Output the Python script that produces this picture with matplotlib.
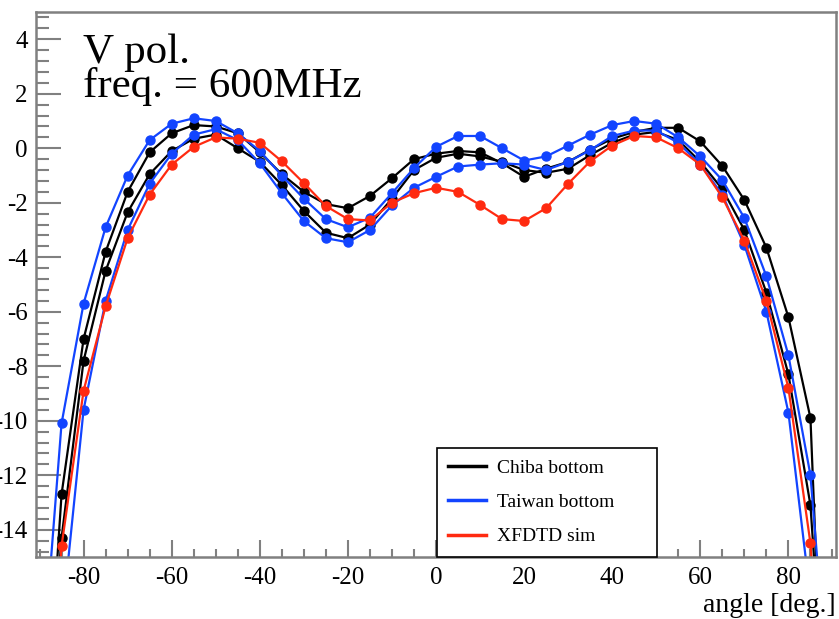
"""Antenna pattern, V pol. 600 MHz: Chiba / Taiwan bottom vs XFDTD sim."""
import matplotlib
matplotlib.use("Agg")
import matplotlib.pyplot as plt
from matplotlib.ticker import MultipleLocator

plt.rcParams["font.family"] = ["Liberation Serif", "DejaVu Serif"]
plt.rcParams["axes.unicode_minus"] = False

angle = list(range(-90, 91, 5))

chiba_1 = [-25, -12.7, -7.0, -3.8, -1.6, -0.15, 0.55, 0.85, 0.8, 0.55,
           -0.15, -0.95, -1.6, -2.05, -2.2, -1.75, -1.1, -0.4, -0.2, -0.1,
           -0.15, -0.55, -1.05, -0.75, -0.5, -0.05, 0.35, 0.6, 0.75, 0.75,
           0.25, -0.65, -1.9, -3.65, -6.2, -9.9, -30]
chiba_2 = [-25, -14.3, -7.8, -4.5, -2.35, -0.95, -0.1, 0.35, 0.5, 0.0,
           -0.5, -1.35, -2.3, -3.1, -3.3, -2.8, -1.85, -0.8, -0.35, -0.2,
           -0.3, -0.5, -0.8, -0.9, -0.75, -0.25, 0.2, 0.5, 0.6, 0.3,
           -0.5, -1.5, -3.0, -5.3, -8.3, -13.1, -25]
taiwan_1 = [-20.5, -10.1, -5.7, -2.9, -1.0, 0.3, 0.9, 1.1, 1.0, 0.55,
            -0.1, -1.0, -1.85, -2.6, -2.9, -2.55, -1.65, -0.73, 0.05, 0.45,
            0.45, 0.0, -0.45, -0.3, 0.1, 0.5, 0.85, 1.0, 0.9, 0.4,
            -0.3, -1.17, -2.56, -4.7, -7.6, -12.0, -22]
taiwan_2 = [-28, -17.5, -9.6, -5.6, -3.0, -1.3, -0.2, 0.5, 0.7, 0.3,
            -0.55, -1.65, -2.67, -3.3, -3.45, -3.0, -2.1, -1.45, -1.05, -0.67,
            -0.6, -0.55, -0.6, -0.8, -0.5, -0.07, 0.45, 0.65, 0.65, 0.2,
            -0.6, -1.7, -3.55, -6.0, -9.7, -16.5, -28]
xfdtd = [-26, -14.6, -8.9, -5.8, -3.3, -1.7, -0.6, 0.05, 0.4, 0.35,
         0.2, -0.48, -1.28, -2.12, -2.6, -2.65, -2.0, -1.65, -1.45, -1.6,
         -2.08, -2.6, -2.67, -2.2, -1.3, -0.48, 0.1, 0.45, 0.4, 0.0,
         -0.6, -1.8, -3.4, -5.6, -8.8, -14.5, -26]

BLACK = "#000000"
BLUE = "#1244ff"
RED = "#ff2a10"
FRAME = "#808080"

fig = plt.figure(figsize=(8.39, 6.19), dpi=100)
ax = fig.add_axes([36 / 839, 62 / 619, 800 / 839, 545 / 619])

style = dict(marker="o", ms=6.5, lw=1.6)
ax.plot(angle, chiba_1, color=BLACK, label="Chiba bottom", **style)
ax.plot(angle, chiba_2, color=BLACK, **style)
ax.plot(angle, taiwan_1, color=BLUE, label="Taiwan bottom", **style)
ax.plot(angle, taiwan_2, color=BLUE, **style)
ax.plot(angle, xfdtd, color=RED, label="XFDTD sim", **style)

ax.set_xlim(-90.8, 90.8)
ax.set_ylim(-15, 5)

ax.xaxis.set_major_locator(MultipleLocator(20))
ax.xaxis.set_minor_locator(MultipleLocator(5))
ax.yaxis.set_major_locator(MultipleLocator(2))
ax.yaxis.set_minor_locator(MultipleLocator(0.4))
ax.tick_params(which="both", direction="in", top=False, right=False,
               color=FRAME, width=1.5, labelsize=18)
ax.tick_params(axis="y", which="major", length=18, pad=6)
ax.tick_params(axis="y", which="minor", length=9.5)
ax.tick_params(axis="x", which="major", length=12, pad=7)
ax.tick_params(axis="x", which="minor", length=6)
for s in ax.spines.values():
    s.set_color(FRAME)
    s.set_linewidth(1.8)

ax.text(0.059, 0.906, "V pol.", transform=ax.transAxes, fontsize=31)
ax.text(0.059, 0.844, "freq. = 600MHz", transform=ax.transAxes, fontsize=31)
fig.text(836 / 839, 7 / 619, "angle [deg.]", ha="right", va="baseline", fontsize=20)

leg = ax.legend(loc="lower left", bbox_to_anchor=(0.501, 0.0, 0.275, 0.202),
                mode="expand", borderaxespad=0, fancybox=False, framealpha=1,
                edgecolor="black", fontsize=14, handlelength=1.95,
                handletextpad=0.57, labelspacing=0.85, borderpad=0.6)
leg.get_frame().set_linewidth(1.2)
for h in leg.get_lines():
    h.set_linewidth(2.5)
    h.set_marker("")

fig.savefig("out.png", dpi=100)
